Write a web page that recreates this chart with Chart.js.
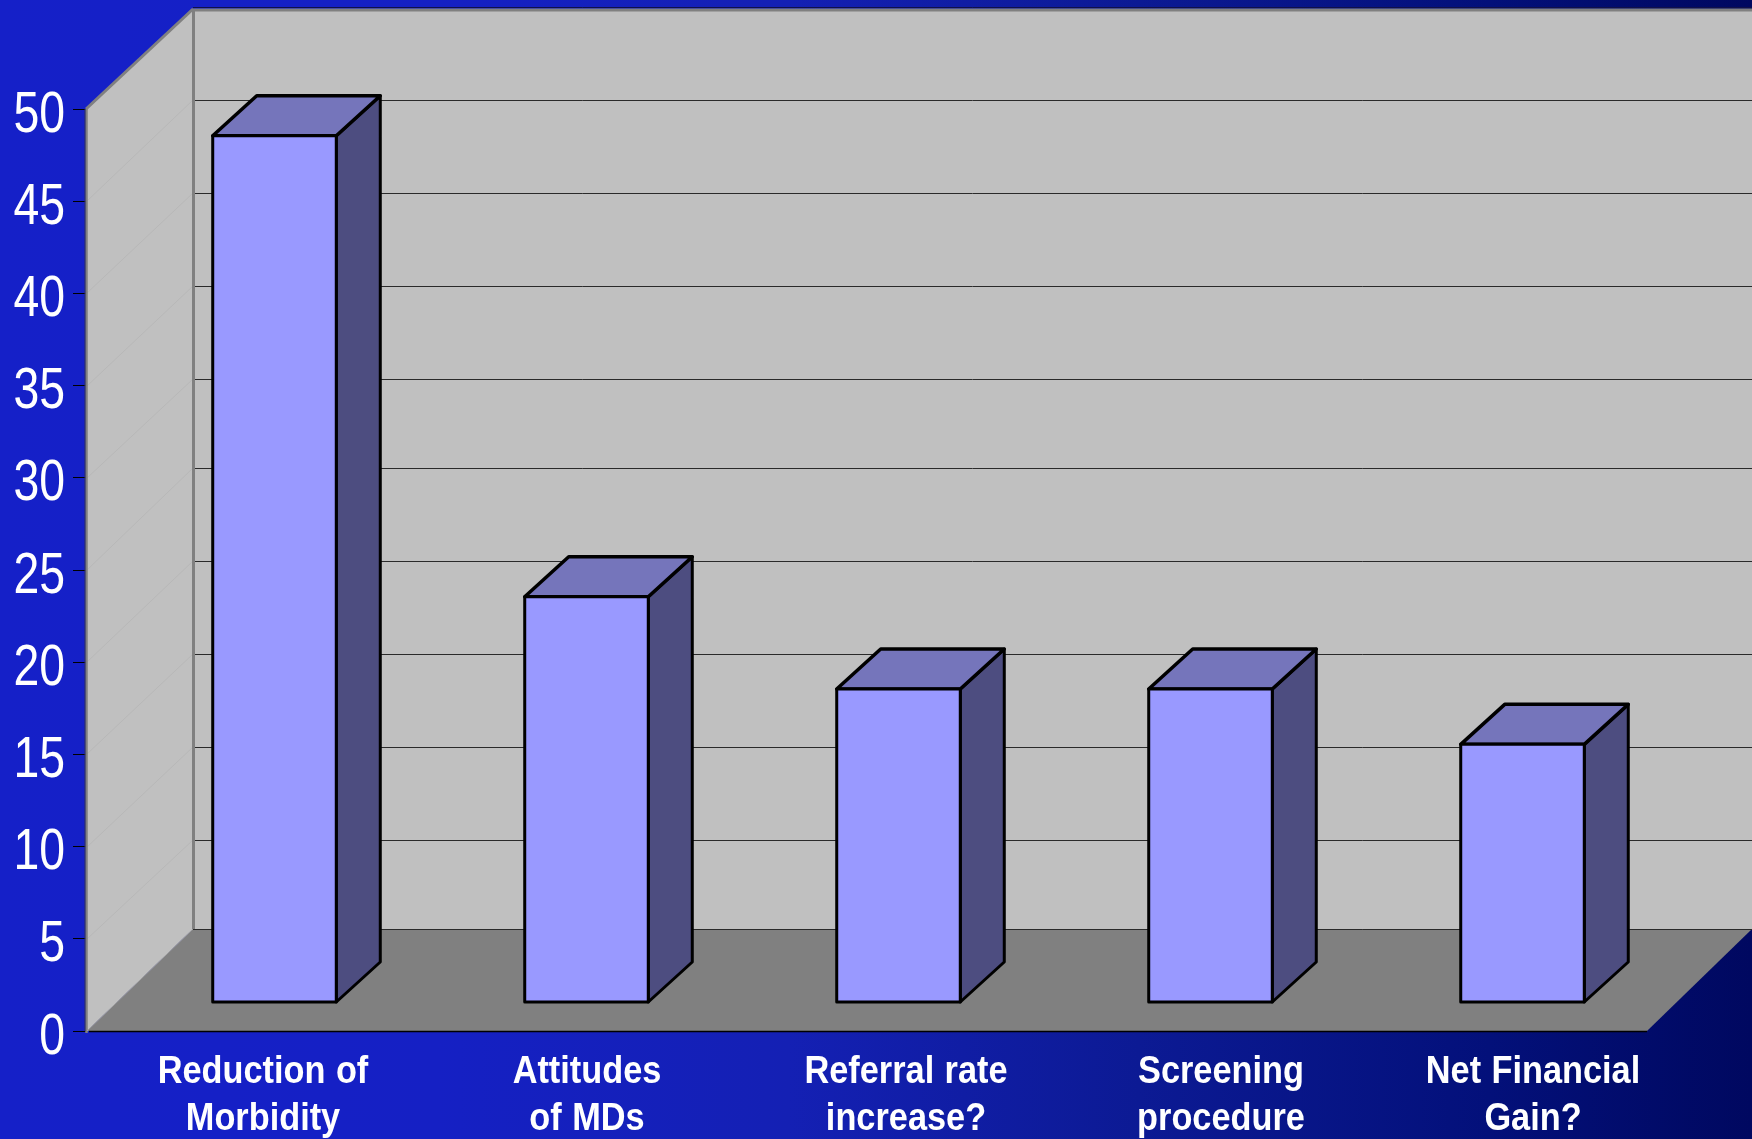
<!DOCTYPE html>
<html lang="en">
<head>
  <meta charset="UTF-8">
  <title>Bar chart</title>
  <script src="https://cdn.jsdelivr.net/npm/chart.js"></script>
  <style>
    html, body {
      margin: 0;
      width: 1752px;
      height: 1139px;
      overflow: hidden;
      background: linear-gradient(to right, #1520c8 0%, #1520c4 25%, #1420b4 45%, #0c1a94 65%, #03107a 85%, #000860 100%);
    }
    canvas { display: block; }
  </style>
</head>
<body>
  <canvas id="barChart" width="1752" height="1139"></canvas>
  <script>
    const categories = [
      ['Reduction of', 'Morbidity'],
      ['Attitudes', 'of MDs'],
      ['Referral rate', 'increase?'],
      ['Screening', 'procedure'],
      ['Net Financial', 'Gain?']
    ];
    const values = [47, 22, 17, 17, 14];
    const labelNudge = [20, 32, 39, 42, 42];
    // back wall lines land a little unevenly, 45 down to 5
    const backLineNudge = [1, 2, 2, 3, 0, 1, 2, 2, 3];

    // room depth of the walls and floor, bar depth and where the bars stand
    const roomDepth = { x: 106, y: -102 };
    const barDepth = { x: 44, y: -40 };
    const barShift = { x: 31.5, y: -28.5 };

    const FONT = '"Liberation Sans", Arial, sans-serif';

    function poly(ctx, pts, fill, stroke, width) {
      ctx.beginPath();
      pts.forEach((p, i) => i ? ctx.lineTo(p[0], p[1]) : ctx.moveTo(p[0], p[1]));
      ctx.closePath();
      if (fill) { ctx.fillStyle = fill; ctx.fill(); }
      if (stroke) {
        ctx.strokeStyle = stroke;
        ctx.lineWidth = width;
        ctx.lineJoin = 'round';
        ctx.stroke();
      }
    }

    function line(ctx, x1, y1, x2, y2, color, width) {
      ctx.beginPath();
      ctx.moveTo(x1, y1);
      ctx.lineTo(x2, y2);
      ctx.strokeStyle = color;
      ctx.lineWidth = width;
      ctx.stroke();
    }

    // no narrow face is installed, so squeeze the regular one sideways
    function narrowText(ctx, text, x, y, squeeze) {
      ctx.save();
      ctx.translate(x, y);
      ctx.scale(squeeze, 1);
      ctx.fillText(text, 0, 0);
      ctx.restore();
    }

    const room3d = {
      id: 'room3d',
      beforeDatasetsDraw(chart) {
        const { ctx, chartArea: a, scales } = chart;
        const dx = roomDepth.x, dy = roomDepth.y;
        const W = chart.width;
        const wallTop = a.top + dy + 2;

        // back wall, side wall, floor
        poly(ctx, [[a.left + dx, wallTop], [W, wallTop], [W, a.bottom + dy], [a.left + dx, a.bottom + dy]], '#c0c0c0');
        poly(ctx, [[a.left, a.top], [a.left + dx, wallTop], [a.left + dx, a.bottom + dy], [a.left, a.bottom]], '#c0c0c0');
        poly(ctx, [[a.left, a.bottom], [a.left + dx, a.bottom + dy], [W, a.bottom + dy], [a.right, a.bottom]], '#808080');

        // gridlines run along the side wall and across the back wall
        const inner = scales.y.ticks.filter(t => t.value > 0 && t.value < 50).sort((p, q) => q.value - p.value);
        inner.forEach((t, i) => {
          const y = Math.round(scales.y.getPixelForValue(t.value));
          line(ctx, a.left, y, a.left + dx, y + dy + backLineNudge[i], '#b8b8b8', 1);
          line(ctx, a.left + dx, y + dy + backLineNudge[i] + 0.5, W, y + dy + backLineNudge[i] + 0.5, '#2a2a2a', 1);
        });

        // room edges
        line(ctx, a.left + dx, a.bottom + dy + 0.5, W, a.bottom + dy + 0.5, '#2a2a2a', 1);
        line(ctx, a.left + dx - 1, wallTop + 1, W, wallTop + 1, '#808080', 3);
        line(ctx, a.left + dx, wallTop - 1.5, W, wallTop - 1.5, '#10104a', 1);
        line(ctx, a.left + dx + 0.5, wallTop, a.left + dx + 0.5, a.bottom + dy, '#808080', 3);
        line(ctx, a.left - 0.5, a.top, a.left - 0.5, a.bottom + 2, '#808080', 2.5);
        line(ctx, a.left - 2, a.top, a.left - 2, a.bottom, '#30305a', 1);
        line(ctx, a.left - 1, a.top, a.left + dx, wallTop, '#808080', 3);
        line(ctx, a.left, a.bottom, a.left + dx, a.bottom + dy, '#a0a0a0', 1);
        line(ctx, a.left + 2, a.bottom + 0.5, a.right, a.bottom + 0.5, '#000000', 1.5);

        // top and side faces of each bar, the front fill comes from the dataset itself
        chart.getDatasetMeta(0).data.forEach(bar => {
          const l = bar.x - bar.width / 2 + barShift.x;
          const r = bar.x + bar.width / 2 + barShift.x;
          const t = bar.y + barShift.y;
          const b = bar.base + barShift.y;
          const ox = barDepth.x, oy = barDepth.y;
          poly(ctx, [[r, t], [r + ox, t + oy], [r + ox, b + oy], [r, b]], '#4d4d80', '#000000', 3);
          poly(ctx, [[l, t], [l + ox, t + oy], [r + ox, t + oy], [r, t]], '#7575bb', '#000000', 3.5);
        });

        ctx.save();
        ctx.translate(barShift.x, barShift.y);
      },
      afterDatasetsDraw(chart) {
        const { ctx, scales } = chart;

        // front outline sits centred on the bar edges
        chart.getDatasetMeta(0).data.forEach(bar => {
          ctx.strokeStyle = '#000000';
          ctx.lineWidth = 3;
          ctx.strokeRect(bar.x - bar.width / 2, bar.y, bar.width, bar.base - bar.y);
        });
        ctx.restore();

        ctx.save();
        ctx.fillStyle = '#ffffff';

        // value axis numbers
        ctx.font = '58px ' + FONT;
        ctx.textAlign = 'right';
        ctx.textBaseline = 'middle';
        scales.y.ticks.forEach(t => {
          narrowText(ctx, t.label, 65, scales.y.getPixelForValue(t.value) + 6.5, 0.8);
        });

        // two line category labels under the floor
        ctx.font = 'bold 39px ' + FONT;
        ctx.textAlign = 'center';
        ctx.textBaseline = 'alphabetic';
        ctx.wordSpacing = '1px';
        categories.forEach((lines, i) => {
          const x = scales.x.getPixelForTick(i) + labelNudge[i];
          narrowText(ctx, lines[0], x, 1083, 0.88);
          narrowText(ctx, lines[1], x, 1130, 0.88);
        });
        ctx.restore();
      }
    };

    new Chart(document.getElementById('barChart').getContext('2d'), {
      type: 'bar',
      data: {
        labels: categories.map(c => c.join(' ')),
        datasets: [{
          data: values,
          backgroundColor: '#9999ff',
          borderWidth: 0,
          barPercentage: 0.8,
          categoryPercentage: 0.495,
          clip: false
        }]
      },
      options: {
        responsive: false,
        animation: false,
        layout: { padding: { top: 109, right: 105, bottom: 0, left: 0 } },
        plugins: { legend: { display: false }, tooltip: { enabled: false }, title: { display: false } },
        scales: {
          x: {
            grid: { display: false },
            border: { display: false },
            ticks: { display: false },
            afterFit(scale) { scale.height = 108; }
          },
          y: {
            min: 0,
            max: 50,
            afterFit(scale) { scale.width = 87; },
            border: { display: false },
            grid: { drawOnChartArea: false, drawTicks: true, tickLength: 14, tickColor: '#000000', lineWidth: 1 },
            ticks: { stepSize: 5, display: false }
          }
        }
      },
      plugins: [room3d]
    });
  </script>
</body>
</html>
